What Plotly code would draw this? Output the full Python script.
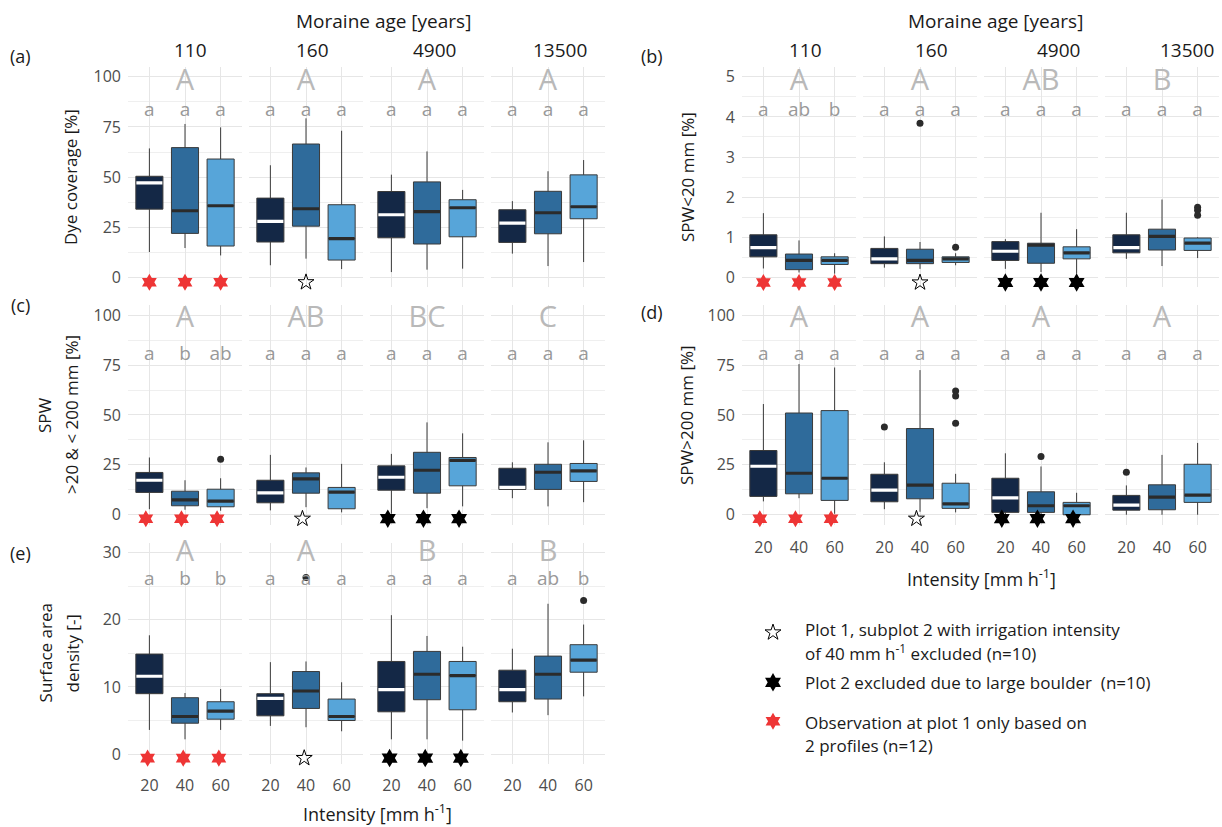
import plotly.graph_objects as go

W, H = 1222, 827
FONT = "Open Sans, sans-serif"

ages = ["110", "160", "4900", "13500"]
intensities = ["20", "40", "60"]
box_colors = ["#142846", "#2f6b9b", "#57a5d9"]
median_colors = ["#ffffff", "#2b2b2b", "#2b2b2b"]

# Box statistics, one row per moraine age x intensity (20, 40, 60):
# [lower whisker, q1, median, q3, upper whisker]
dye_coverage = [
    [12.6, 34.0, 47.1, 50.4, 64.3], [14.6, 21.9, 33.2, 64.7, 76.5], [10.9, 15.6, 35.7, 59.0, 74.8],
    [6.0, 17.6, 27.9, 39.5, 55.9], [9.3, 25.5, 34.2, 66.5, 79.3], [4.1, 8.6, 19.3, 36.2, 73.1],
    [2.6, 19.7, 31.2, 42.8, 51.2], [3.8, 16.6, 32.8, 47.6, 62.8], [4.3, 20.2, 34.7, 38.7, 43.6],
    [11.8, 17.4, 27.0, 33.7, 38.0], [5.6, 21.7, 32.2, 42.9, 52.9], [7.6, 29.2, 35.2, 51.1, 58.5],
]
spw_small = [
    [0.22, 0.51, 0.74, 1.06, 1.60], [0.12, 0.19, 0.42, 0.58, 0.92], [0.09, 0.32, 0.42, 0.51, 0.60],
    [0.24, 0.34, 0.46, 0.72, 1.02], [0.21, 0.34, 0.42, 0.70, 0.88], [0.30, 0.37, 0.46, 0.51, 0.60],
    [0.21, 0.42, 0.65, 0.89, 0.95], [0.13, 0.35, 0.80, 0.85, 1.61], [0.09, 0.46, 0.61, 0.76, 1.20],
    [0.46, 0.61, 0.74, 1.06, 1.61], [0.28, 0.68, 1.02, 1.20, 1.94], [0.48, 0.67, 0.85, 0.98, 1.00],
]
spw_mid = [
    [2.8, 11.2, 17.3, 21.2, 28.7], [2.5, 4.5, 7.5, 11.8, 17.3], [2.0, 4.0, 6.8, 12.8, 18.3],
    [2.2, 6.0, 11.0, 17.3, 30.0], [3.8, 10.8, 18.0, 21.0, 23.7], [1.2, 3.0, 11.3, 13.7, 25.5],
    [0.5, 12.3, 18.8, 24.5, 30.5], [3.3, 10.8, 22.3, 31.3, 46.3], [4.2, 14.5, 27.3, 28.7, 40.8],
    [8.3, 12.7, 13.7, 23.3, 26.3], [4.2, 12.7, 21.3, 25.3, 36.3], [6.3, 16.7, 22.0, 25.7, 37.3],
]
spw_large = [
    [6.7, 9.2, 24.3, 32.2, 55.5], [8.3, 10.5, 20.8, 51.0, 75.5], [0.5, 7.2, 18.3, 52.2, 73.8],
    [2.8, 6.5, 12.3, 20.3, 26.3], [1.5, 8.0, 14.8, 43.2, 72.5], [1.2, 3.2, 5.5, 15.8, 20.5],
    [0.0, 1.2, 8.5, 18.3, 30.8], [0.0, 1.2, 4.5, 11.5, 24.2], [0.0, 0.0, 4.5, 6.2, 11.0],
    [0.0, 2.3, 4.8, 9.7, 14.7], [0.0, 2.5, 8.8, 15.0, 30.0], [0.0, 6.2, 9.8, 25.3, 36.0],
]
surface_density = [
    [3.6, 9.0, 11.6, 14.9, 17.7], [2.2, 4.6, 5.6, 8.4, 9.1], [3.6, 5.2, 6.4, 7.8, 9.7],
    [4.2, 5.7, 8.3, 9.0, 13.7], [4.0, 6.8, 9.4, 12.3, 13.8], [3.4, 5.0, 5.6, 8.2, 10.7],
    [2.2, 6.3, 9.6, 13.8, 20.7], [2.2, 8.1, 11.9, 15.3, 17.6], [2.0, 6.6, 11.7, 13.8, 16.0],
    [6.2, 7.8, 9.6, 12.5, 15.7], [5.8, 8.2, 11.9, 14.6, 22.4], [8.6, 12.2, 14.0, 16.3, 19.3],
]

# Outliers: (age index, intensity index, value)
dye_outliers = []
spw_small_outliers = [(1, 1, 3.84), (1, 2, 0.75), (3, 2, 1.75), (3, 2, 1.67), (3, 2, 1.55)]
spw_mid_outliers = [(0, 2, 27.8)]
spw_large_outliers = [(1, 0, 44.0), (1, 2, 62.0), (1, 2, 59.5), (1, 2, 45.8), (2, 1, 29.2), (3, 0, 21.3)]
surface_outliers = [(1, 1, 26.3), (3, 2, 22.9)]

# Significance letters: between ages (upper case) and between intensities (lower case)
dye_groups = ["A", "A", "A", "A"]
spw_small_groups = ["A", "A", "AB", "B"]
spw_mid_groups = ["A", "AB", "BC", "C"]
spw_large_groups = ["A", "A", "A", "A"]
surface_groups = ["A", "A", "B", "B"]

dye_letters = [["a", "a", "a"], ["a", "a", "a"], ["a", "a", "a"], ["a", "a", "a"]]
spw_small_letters = [["a", "ab", "b"], ["a", "a", "a"], ["a", "a", "a"], ["a", "a", "a"]]
spw_mid_letters = [["a", "b", "ab"], ["a", "a", "a"], ["a", "a", "a"], ["a", "a", "a"]]
spw_large_letters = [["a", "a", "a"], ["a", "a", "a"], ["a", "a", "a"], ["a", "a", "a"]]
surface_letters = [["a", "b", "b"], ["a", "a", "a"], ["a", "a", "a"], ["a", "ab", "b"]]

# Data-quality flags per age x intensity
flags_all = [["red", "red", "red"], [None, "open", None], ["black", "black", "black"], [None, None, None]]
flags_dye = [["red", "red", "red"], [None, "open", None], [None, None, None], [None, None, None]]

legend_entries = [
    ("open", ["Plot 1, subplot 2 with irrigation intensity", "of 40 mm h<sup>-1</sup> excluded (n=10)"]),
    ("black", ["Plot 2 excluded due to large boulder  (n=10)"]),
    ("red", ["Observation at plot 1 only based on", "2 profiles (n=12)"]),
]

# ---------------------------------------------------------------- layout
left_x0 = [128 + 121 * i for i in range(4)]
right_x0 = [742 + 121 * i for i in range(4)]
FACET_W = 114
BOX_W = 0.76

grid_major = "#e6e6e6"
grid_minor = "#efefef"
tick_color = "#4d4d4d"
upper_color = "#b9b9b9"
lower_color = "#999999"


def star_marker(kind):
    if kind == "red":
        return dict(symbol="hexagram", size=13, color="#ee3535", line=dict(width=0))
    if kind == "black":
        return dict(symbol="hexagram", size=14, color="#000000", line=dict(width=0))
    return dict(symbol="star-open", size=12, color="#000000", line=dict(width=1, color="#000000"))


panels = [
    dict(tag="(a)", stats=dye_coverage, outliers=dye_outliers, groups=dye_groups,
         letters=dye_letters, flags=flags_dye, col=left_x0, top=66, bottom=287,
         yr=[-5, 105], ticks=[0, 25, 50, 75, 100], minor=[12.5, 37.5, 62.5, 87.5],
         up_y=97, low_y=83, star_y=-2.5, star_dx=0.0, xlabels=False,
         title=["Dye coverage [%]"], title_x=[70], tag_xy=(20, 55)),
    dict(tag="(b)", stats=spw_small, outliers=spw_small_outliers, groups=spw_small_groups,
         letters=spw_small_letters, flags=flags_all, col=right_x0, top=66, bottom=287,
         yr=[-0.25, 5.25], ticks=[0, 1, 2, 3, 4, 5], minor=[0.5, 1.5, 2.5, 3.5, 4.5],
         up_y=4.85, low_y=4.15, star_y=-0.13, star_dx=0.0, xlabels=False,
         title=["SPW&lt;20 mm [%]"], title_x=[687], tag_xy=(652, 55)),
    dict(tag="(c)", stats=spw_mid, outliers=spw_mid_outliers, groups=spw_mid_groups,
         letters=spw_mid_letters, flags=flags_all, col=left_x0, top=305, bottom=525,
         yr=[-5, 105], ticks=[0, 25, 50, 75, 100], minor=[12.5, 37.5, 62.5, 87.5],
         up_y=97.5, low_y=80, star_y=-2.0, star_dx=-0.1, xlabels=False,
         title=["SPW", "&gt;20 &amp; &lt; 200 mm [%]"], title_x=[45, 72], tag_xy=(20, 305)),
    dict(tag="(d)", stats=spw_large, outliers=spw_large_outliers, groups=spw_large_groups,
         letters=spw_large_letters, flags=flags_all, col=right_x0, top=305, bottom=525,
         yr=[-5, 105], ticks=[0, 25, 50, 75, 100], minor=[12.5, 37.5, 62.5, 87.5],
         up_y=97.5, low_y=80, star_y=-2.0, star_dx=-0.1, xlabels=True, xlab_y=550,
         title=["SPW&gt;200 mm [%]"], title_x=[687], tag_xy=(652, 312),
         xtitle_xy=(981, 578)),
    dict(tag="(e)", stats=surface_density, outliers=surface_outliers, groups=surface_groups,
         letters=surface_letters, flags=flags_all, col=left_x0, top=543, bottom=765,
         yr=[-1.5, 31.5], ticks=[0, 10, 20, 30], minor=[5, 15, 25],
         up_y=29.9, low_y=25.9, star_y=-0.6, star_dx=-0.05, xlabels=True, xlab_y=789,
         title=["Surface area", "density [-]"], title_x=[45, 72], tag_xy=(20, 553),
         xtitle_xy=(377, 814)),
]

fig = go.Figure()
layout = dict(
    width=W, height=H, margin=dict(l=0, r=0, t=0, b=0),
    paper_bgcolor="white", plot_bgcolor="rgba(0,0,0,0)",
    showlegend=False, boxmode="overlay", font=dict(family=FONT, color="#1a1a1a"),
)
annotations = []


def paper(px, py):
    return px / W, 1 - py / H


for p_i, p in enumerate(panels):
    for f in range(4):
        n = p_i * 4 + f + 1
        xs = "" if n == 1 else str(n)
        xref, yref = "x" + xs, "y" + xs
        x0 = p["col"][f]
        layout["xaxis" + xs] = dict(
            domain=[x0 / W, (x0 + FACET_W) / W], range=[0.4, 3.6], anchor=yref,
            tickmode="array", tickvals=[1, 2, 3], ticktext=intensities,
            showticklabels=p["xlabels"], ticks="", showline=False, zeroline=False,
            showgrid=True, gridcolor=grid_major, gridwidth=1,
            tickfont=dict(size=16, color=tick_color, family=FONT),
            ticklabelstandoff=(p["xlab_y"] - p["bottom"] - 14) if p["xlabels"] else 0,
            fixedrange=True,
        )
        layout["yaxis" + xs] = dict(
            domain=[1 - p["bottom"] / H, 1 - p["top"] / H], range=p["yr"], anchor=xref,
            tickmode="array", tickvals=p["ticks"], showticklabels=(f == 0),
            ticks="", showline=False, zeroline=False,
            showgrid=True, gridcolor=grid_major, gridwidth=1,
            minor=dict(tickvals=p["minor"], showgrid=True, gridcolor=grid_minor,
                       gridwidth=0.7, ticks=""),
            tickfont=dict(size=16, color=tick_color, family=FONT),
            ticklabelstandoff=6, fixedrange=True,
        )

        # boxes
        for k in range(3):
            lo, q1, med, q3, hi = p["stats"][f * 3 + k]
            pos = k + 1
            fig.add_trace(go.Box(
                x=[pos], q1=[q1], median=[med], q3=[q3], lowerfence=[lo], upperfence=[hi],
                orientation="v", width=BOX_W, fillcolor=box_colors[k],
                line=dict(color="#3a3a3a", width=1), whiskerwidth=0, boxpoints=False,
                xaxis=xref, yaxis=yref, hoverinfo="skip",
            ))
            half = BOX_W / 2 - 0.015
            fig.add_trace(go.Scatter(
                x=[pos - half, pos + half], y=[med, med], mode="lines",
                line=dict(color=median_colors[k], width=3.2),
                xaxis=xref, yaxis=yref, hoverinfo="skip",
            ))

        # outliers
        pts = [(k + 1, v) for (a, k, v) in p["outliers"] if a == f]
        if pts:
            fig.add_trace(go.Scatter(
                x=[q[0] for q in pts], y=[q[1] for q in pts], mode="markers",
                marker=dict(color="#2b2b2b", size=7), xaxis=xref, yaxis=yref,
                hoverinfo="skip",
            ))

        # significance letters
        fig.add_trace(go.Scatter(
            x=[2], y=[p["up_y"]], mode="text", text=[p["groups"][f]],
            textfont=dict(size=29, color=upper_color, family=FONT),
            textposition="middle center", xaxis=xref, yaxis=yref, hoverinfo="skip",
            cliponaxis=False,
        ))
        fig.add_trace(go.Scatter(
            x=[1, 2, 3], y=[p["low_y"]] * 3, mode="text", text=p["letters"][f],
            textfont=dict(size=19, color=lower_color, family=FONT),
            textposition="middle center", xaxis=xref, yaxis=yref, hoverinfo="skip",
            cliponaxis=False,
        ))

        # data-quality stars
        for k in range(3):
            kind = p["flags"][f][k]
            if kind is None:
                continue
            fig.add_trace(go.Scatter(
                x=[k + 1 + p["star_dx"]], y=[p["star_y"]], mode="markers",
                marker=star_marker(kind), xaxis=xref, yaxis=yref, hoverinfo="skip",
                cliponaxis=False,
            ))

    # panel tag
    tx, ty = paper(*p["tag_xy"])
    annotations.append(dict(text=p["tag"], x=tx, y=ty, xref="paper", yref="paper",
                            showarrow=False, xanchor="center", yanchor="middle",
                            font=dict(size=18, color="#1a1a1a", family=FONT)))
    # y title
    cy = (p["top"] + p["bottom"]) / 2
    for line, lx in zip(p["title"], p["title_x"]):
        ax, ay = paper(lx, cy)
        annotations.append(dict(text=line, x=ax, y=ay, xref="paper", yref="paper",
                                showarrow=False, textangle=-90, xanchor="center",
                                yanchor="middle", font=dict(size=17, color="#1a1a1a", family=FONT)))
    # x title
    if "xtitle_xy" in p:
        ax, ay = paper(*p["xtitle_xy"])
        annotations.append(dict(text="Intensity [mm h<sup>-1</sup>]", x=ax, y=ay,
                                xref="paper", yref="paper", showarrow=False,
                                xanchor="center", yanchor="middle",
                                font=dict(size=18, color="#1a1a1a", family=FONT)))

# strip headers
strip_left = [190, 312, 434, 560]
strip_right = [806, 931, 1058, 1187]
for xs_list, title_cx in ((strip_left, 383), (strip_right, 995)):
    ax, ay = paper(title_cx, 20)
    annotations.append(dict(text="Moraine age [years]", x=ax, y=ay, xref="paper", yref="paper",
                            showarrow=False, xanchor="center", yanchor="middle",
                            font=dict(size=19, color="#1a1a1a", family=FONT)))
    for age, sx in zip(ages, xs_list):
        ax, ay = paper(sx, 49)
        annotations.append(dict(text=age, x=ax, y=ay, xref="paper", yref="paper",
                                showarrow=False, xanchor="center", yanchor="middle",
                                font=dict(size=19, color="#1a1a1a", family=FONT)))

# legend (pixel-space overlay axis)
layout["xaxis21"] = dict(domain=[0, 1], range=[0, W], visible=False, anchor="y21", fixedrange=True)
layout["yaxis21"] = dict(domain=[0, 1], range=[H, 0], visible=False, anchor="x21", fixedrange=True)
legend_key_y = [633, 683, 722]
legend_line_y = [[630, 653], [683], [723, 746]]
for (kind, lines), ky, ly in zip(legend_entries, legend_key_y, legend_line_y):
    fig.add_trace(go.Scatter(x=[773], y=[ky], mode="markers", marker=star_marker(kind),
                             xaxis="x21", yaxis="y21", hoverinfo="skip"))
    for text, y in zip(lines, ly):
        ax, ay = paper(803, y)
        annotations.append(dict(text=text, x=ax, y=ay, xref="paper", yref="paper",
                                showarrow=False, xanchor="left", yanchor="middle",
                                font=dict(size=17, color="#1a1a1a", family=FONT)))

layout["annotations"] = annotations
fig.update_layout(**layout)
fig.write_html("out.html")
